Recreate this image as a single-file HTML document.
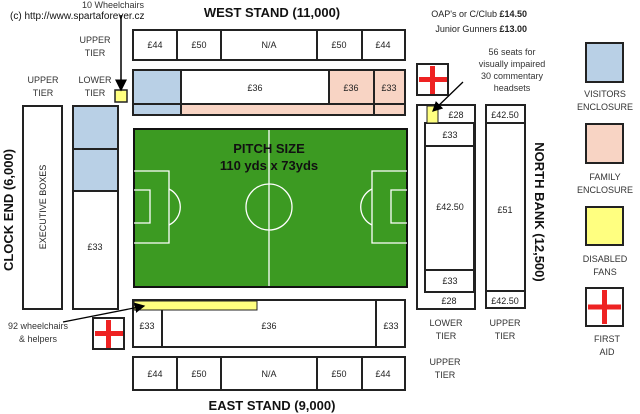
<!DOCTYPE html>
<html><head><style>
body{margin:0;background:#fff}
svg{display:block;font-family:"Liberation Sans",sans-serif}
.s{fill:#fff;stroke:#222;stroke-width:2}
.t{font-size:9px;text-anchor:middle;fill:#222}
.l{font-size:9px;text-anchor:middle;fill:#333}
.h{font-size:13px;font-weight:bold;text-anchor:middle;fill:#111}
</style></head><body>
<svg width="640" height="414" viewBox="0 0 640 414">
<defs><marker id="a" markerWidth="8" markerHeight="8" refX="7" refY="4" orient="auto"><path d="M0,0 L8,4 L0,8z" fill="#000"/></marker></defs>
<!-- titles -->
<text x="10" y="19" font-size="10" fill="#111">(c) http://www.spartaforever.cz</text>
<text x="113" y="8" class="l">10 Wheelchairs</text>
<text x="272" y="17" class="h">WEST STAND (11,000)</text>
<text x="272" y="410" class="h">EAST STAND (9,000)</text>
<text x="527" y="17" font-size="9" text-anchor="end" fill="#222">OAP's or C/Club <tspan font-weight="bold">£14.50</tspan></text>
<text x="527" y="32" font-size="9" text-anchor="end" fill="#222">Junior Gunners <tspan font-weight="bold">£13.00</tspan></text>
<text x="512" y="55" class="l">56 seats for</text>
<text x="512" y="67" class="l">visually impaired</text>
<text x="512" y="79" class="l">30 commentary</text>
<text x="512" y="91" class="l">headsets</text>
<text x="95" y="43" class="l">UPPER</text><text x="95" y="56" class="l">TIER</text>
<text x="43" y="83" class="l">UPPER</text><text x="43" y="96" class="l">TIER</text>
<text x="95" y="83" class="l">LOWER</text><text x="95" y="96" class="l">TIER</text>
<!-- west upper -->
<rect x="133" y="30" width="272" height="30" class="s"/>
<path d="M177,30V60M221,30V60M317,30V60M362,30V60" stroke="#222" stroke-width="2"/>
<text x="155" y="48" class="t">£44</text><text x="199" y="48" class="t">£50</text><text x="269" y="48" class="t">N/A</text><text x="339" y="48" class="t">£50</text><text x="383" y="48" class="t">£44</text>
<!-- west lower -->
<rect x="133" y="70" width="272" height="45" class="s"/>
<rect x="134" y="71" width="47" height="43" fill="#b9d0e6"/>
<rect x="181" y="104" width="223" height="10" fill="#f8d4c4"/>
<rect x="329" y="71" width="75" height="33" fill="#f8d4c4"/>
<path d="M181,70V115M329,70V104M374,70V115M133,104H405" stroke="#222" stroke-width="2"/>
<text x="255" y="91" class="t">£36</text><text x="351" y="91" class="t">£36</text><text x="389" y="91" class="t">£33</text>
<rect x="115" y="90" width="12" height="12" fill="#ffff80" stroke="#222" stroke-width="1.5"/>
<path d="M121,15V90" stroke="#000" stroke-width="1.5" marker-end="url(#a)"/>
<!-- first aid -->
<rect x="417" y="64" width="31" height="31" class="s"/><path d="M432.5,66V94M419,79.5H447" stroke="#e22" stroke-width="5"/>
<rect x="93" y="318" width="31" height="31" class="s"/><path d="M108.5,320V348M95,333.5H123" stroke="#e22" stroke-width="5"/>
<!-- left -->
<rect x="23" y="106" width="39" height="203" class="s"/>
<text transform="translate(46,207) rotate(-90)" class="t" font-size="9.5">EXECUTIVE BOXES</text>
<rect x="73" y="106" width="45" height="203" class="s"/>
<rect x="74" y="107" width="43" height="84" fill="#b9d0e6"/>
<path d="M73,149H118M73,191H118" stroke="#222" stroke-width="2"/>
<text x="95" y="250" class="t">£33</text>
<text transform="translate(13,210) rotate(-90)" class="h" font-size="14">CLOCK END (6,000)</text>
<!-- pitch -->
<rect x="134" y="129" width="273" height="158" fill="#3c9a22" stroke="#111" stroke-width="2"/>
<g stroke="#fff" stroke-width="1.3" fill="none">
<path d="M269,130V286"/><circle cx="269" cy="207" r="23"/>
<path d="M134,171H169V243H134M134,190H150V223H134"/>
<path d="M169,189A20,20 0 0 1 169,225"/>
<path d="M407,171H372V243H407M407,190H391V223H407"/>
<path d="M372,189A20,20 0 0 0 372,225"/>
</g>
<text x="269" y="153" class="h" font-size="12.5">PITCH SIZE</text>
<text x="269" y="170" class="h" font-size="12.5">110 yds x 73yds</text>
<!-- east lower -->
<rect x="133" y="300" width="272" height="47" class="s"/>
<rect x="134" y="301" width="123" height="9" fill="#ffff80" stroke="#222" stroke-width="1"/>
<path d="M162,310V347M376,300V347" stroke="#222" stroke-width="2"/>
<text x="147" y="329" class="t">£33</text><text x="269" y="329" class="t">£36</text><text x="391" y="329" class="t">£33</text>
<path d="M63,322L144,306" stroke="#000" stroke-width="1.3" marker-end="url(#a)"/>
<text x="38" y="329" class="l">92 wheelchairs</text><text x="38" y="342" class="l">&amp; helpers</text>
<!-- east upper -->
<rect x="133" y="357" width="272" height="33" class="s"/>
<path d="M177,357V390M221,357V390M317,357V390M362,357V390" stroke="#222" stroke-width="2"/>
<text x="155" y="377" class="t">£44</text><text x="199" y="377" class="t">£50</text><text x="269" y="377" class="t">N/A</text><text x="339" y="377" class="t">£50</text><text x="383" y="377" class="t">£44</text>
<!-- north lower -->
<rect x="417" y="105" width="58" height="204" class="s"/>
<rect x="425" y="123" width="49" height="169" class="s"/>
<path d="M437,105V123M425,146H474M425,270H474" stroke="#222" stroke-width="2"/>
<rect x="427" y="106" width="11" height="17" fill="#ffff80" stroke="#222" stroke-width="1"/>
<text x="456" y="118" class="t">£28</text><text x="450" y="138" class="t">£33</text><text x="450" y="210" class="t">£42.50</text><text x="450" y="284" class="t">£33</text><text x="449" y="304" class="t">£28</text>
<path d="M463,82L433,111" stroke="#000" stroke-width="1.3" marker-end="url(#a)"/>
<!-- north upper -->
<rect x="486" y="105" width="39" height="203" class="s"/>
<path d="M486,123H525M486,291H525" stroke="#222" stroke-width="2"/>
<text x="505" y="118" class="t">£42.50</text><text x="505" y="213" class="t">£51</text><text x="505" y="304" class="t">£42.50</text>
<text transform="translate(535,212) rotate(90)" class="h" font-size="14">NORTH BANK (12,500)</text>
<text x="446" y="326" class="l">LOWER</text><text x="446" y="339" class="l">TIER</text>
<text x="505" y="326" class="l">UPPER</text><text x="505" y="339" class="l">TIER</text>
<text x="445" y="365" class="l">UPPER</text><text x="445" y="378" class="l">TIER</text>
<!-- legend -->
<rect x="586" y="43" width="37" height="39" fill="#b9d0e6" stroke="#222" stroke-width="2"/>
<text x="605" y="97" class="l">VISITORS</text><text x="605" y="110" class="l">ENCLOSURE</text>
<rect x="586" y="124" width="37" height="39" fill="#f8d4c4" stroke="#222" stroke-width="2"/>
<text x="605" y="180" class="l">FAMILY</text><text x="605" y="193" class="l">ENCLOSURE</text>
<rect x="586" y="207" width="37" height="38" fill="#ffff80" stroke="#222" stroke-width="2"/>
<text x="605" y="262" class="l">DISABLED</text><text x="605" y="275" class="l">FANS</text>
<rect x="586" y="288" width="37" height="38" class="s"/><path d="M604.5,290V324M588,307H621" stroke="#e22" stroke-width="5"/>
<text x="607" y="342" class="l">FIRST</text><text x="607" y="355" class="l">AID</text>
</svg>
</body></html>
